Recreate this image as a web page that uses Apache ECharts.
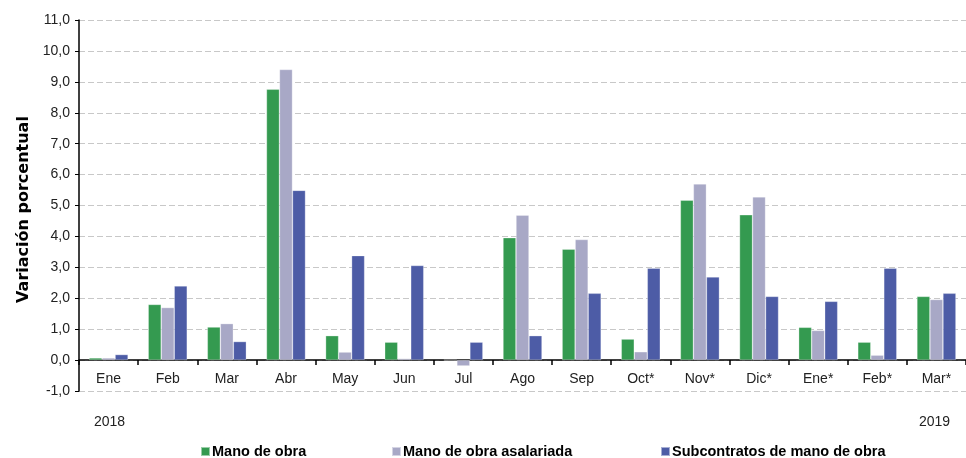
<!DOCTYPE html>
<html>
<head>
<meta charset="utf-8">
<script src="https://cdn.jsdelivr.net/npm/echarts@6/dist/echarts.min.js"></script>
<style>html,body{margin:0;padding:0;background:#fff}#c{width:966px;height:458px}</style>
</head>
<body>
<div id="c"></div>
<script>
var categories = ['Ene','Feb','Mar','Abr','May','Jun','Jul','Ago','Sep','Oct*','Nov*','Dic*','Ene*','Feb*','Mar*'];
var manoDeObra = [0.07, 1.8, 1.07, 8.76, 0.79, 0.58, 0, 3.96, 3.59, 0.68, 5.17, 4.7, 1.06, 0.58, 2.06];
var manoAsalariada = [0.07, 1.7, 1.18, 9.4, 0.26, 0.05, -0.19, 4.69, 3.9, 0.27, 5.7, 5.28, 0.96, 0.16, 1.96];
var subcontratos = [0.18, 2.4, 0.6, 5.49, 3.38, 3.06, 0.58, 0.79, 2.16, 2.97, 2.69, 2.06, 1.9, 2.97, 2.16];
var seriesNames = ['Mano de obra','Mano de obra asalariada','Subcontratos de mano de obra'];
var yearLabels = ['2018','2019'];

var font = 'Liberation Sans, Arial, sans-serif';
var colors = ['#349a50','#a8a8c6','#4d5ca6'];
var chart = echarts.init(document.getElementById('c'));
function legendAt(name, left){
  return {data:[name], left:left, top:439, itemWidth:9, itemHeight:9, itemGap:0,
    icon:'rect', textStyle:{fontFamily:font, fontSize:14.5, fontWeight:'bold', color:'#000', padding:[0,0,0,-3]}};
}
chart.setOption({
  animation:false,
  color:colors,
  grid:{left:79, right:0, top:20, bottom:67, containLabel:false},
  legend:[legendAt(seriesNames[0],195), legendAt(seriesNames[1],386), legendAt(seriesNames[2],655)],
  graphic:[
    {type:'text', left:94, top:415, style:{text:yearLabels[0], font:'14px '+font, fill:'#222'}},
    {type:'text', left:919, top:415, style:{text:yearLabels[1], font:'14px '+font, fill:'#222'}}
  ],
  xAxis:{type:'category', data:categories,
    axisLine:{onZero:true, lineStyle:{color:'#000', width:1.5}},
    axisTick:{show:true, length:5, lineStyle:{color:'#000', width:1.5}},
    axisLabel:{fontFamily:font, fontSize:14, color:'#222', margin:-19},
    splitLine:{show:false}},
  yAxis:{type:'value', min:-1, max:11, interval:1,
    name:'Variación porcentual', nameLocation:'middle', nameGap:47,
    nameTextStyle:{fontFamily:'DejaVu Sans, sans-serif', fontSize:16, fontWeight:'bold', color:'#000', padding:[0,8,0,0]},
    axisLine:{show:true, lineStyle:{color:'#000', width:1.5}},
    axisTick:{show:true, length:4, lineStyle:{color:'#000'}},
    axisLabel:{fontFamily:font, fontSize:14, color:'#222', margin:9,
      formatter:function(v){return v.toFixed(1).replace('.',',');}},
    splitLine:{show:true, lineStyle:{color:'#c8c8c8', type:[6,3], width:1.2}}},
  series:[
    {name:seriesNames[0], type:'bar', data:manoDeObra, barGap:'0%', barCategoryGap:'34%',
      itemStyle:{borderColor:'rgba(255,255,255,0.5)', borderWidth:0.6}},
    {name:seriesNames[1], type:'bar', data:manoAsalariada, barGap:'0%', barCategoryGap:'34%',
      itemStyle:{borderColor:'rgba(255,255,255,0.5)', borderWidth:0.6}},
    {name:seriesNames[2], type:'bar', data:subcontratos, barGap:'0%', barCategoryGap:'34%',
      itemStyle:{borderColor:'rgba(255,255,255,0.5)', borderWidth:0.6}}
  ]
});
</script>
</body>
</html>
